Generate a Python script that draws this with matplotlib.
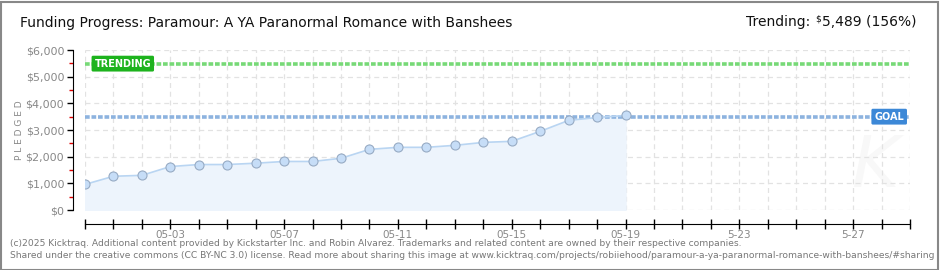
import matplotlib
matplotlib.use("Agg")
import matplotlib.pyplot as plt
import matplotlib.dates as mdates
from matplotlib.patches import Rectangle
import pandas as pd

# data
dates = ["2025-04-30", "2025-05-01", "2025-05-02", "2025-05-03", "2025-05-04",
         "2025-05-05", "2025-05-06", "2025-05-07", "2025-05-08", "2025-05-09",
         "2025-05-10", "2025-05-11", "2025-05-12", "2025-05-13", "2025-05-14",
         "2025-05-15", "2025-05-16", "2025-05-17", "2025-05-18", "2025-05-19"]
pledged = [960, 1265, 1300, 1630, 1705, 1705, 1755, 1820, 1820, 1940,
           2275, 2350, 2350, 2425, 2535, 2575, 2950, 3360, 3470, 3545]
goal = 3500
trending = 5489
x_start, x_end = "2025-04-30", "2025-05-29"
tick_labels = {"2025-05-03": "05-03", "2025-05-07": "05-07", "2025-05-11": "05-11",
               "2025-05-15": "05-15", "2025-05-19": "05-19", "2025-05-23": "5-23",
               "2025-05-27": "5-27"}

plt.rcParams['font.family'] = ['DejaVu Sans']

W, H = 940, 270
fig = plt.figure(figsize=(W / 100, H / 100), dpi=100)
ax = fig.add_axes([85 / W, (H - 210) / H, (910 - 85) / W, 160 / H])

x = pd.to_datetime(dates)
x0, x1 = pd.Timestamp(x_start), pd.Timestamp(x_end)

ax.fill_between(x, pledged, 0, color="#edf4fc", zorder=1)
ax.plot(x, pledged, color="#b9d5f2", lw=1.2, zorder=3)
ax.plot(x, pledged, "o", ms=6.5, mfc="#c6ddf7", mec="#97abc4", mew=0.8, zorder=4)

ax.plot([x0, x1], [goal, goal], color="#8db3df", lw=2.6, ls=(0, (1.3, 0.5)), zorder=2)
ax.plot([x0, x1], [trending, trending], color="#77d977", lw=2.6, ls=(0, (1.3, 0.5)), zorder=2)

ax.set_xlim(x0, x1)
ax.set_ylim(0, 6000)

for s in ["top", "right"]:
    ax.spines[s].set_visible(False)
ax.spines["left"].set_position(("outward", 9))
ax.spines["bottom"].set_position(("outward", 10))
ax.spines["left"].set_bounds(0, 6000)

ax.xaxis.set_major_locator(mdates.DayLocator())
ax.xaxis.set_major_formatter(plt.FuncFormatter(
    lambda v, p: tick_labels.get(mdates.num2date(v).strftime("%Y-%m-%d"), "")))
ax.tick_params(axis="x", direction="inout", length=7, width=1, colors="black",
               labelcolor="#888888", labelsize=7.5, pad=1)

ax.set_yticks(range(0, 6001, 1000))
ax.set_yticklabels(["$0", "$1,000", "$2,000", "$3,000", "$4,000", "$5,000", "$6,000"])
ax.set_yticks(range(500, 6000, 1000), minor=True)
ax.tick_params(axis="y", which="major", direction="out", length=4, width=1,
               labelcolor="#888888", labelsize=8, pad=2)
ax.tick_params(axis="y", which="minor", direction="out", length=3, width=1, color="#e00000")

ax.grid(True, color="#e2e2e2", ls=(0, (4, 3)), lw=0.9, zorder=0)
ax.set_axisbelow(True)

# labels on the lines
ax.text(x0 + pd.Timedelta(hours=8), trending, "TRENDING",
        color="white", fontsize=7, fontweight="bold", va="center", ha="left", zorder=6,
        bbox=dict(boxstyle="round,pad=0.3,rounding_size=0.15", fc="#1db31d", ec="none"))
ax.text(x1 - pd.Timedelta(hours=5), goal, "GOAL",
        color="white", fontsize=7, fontweight="bold", va="center", ha="right", zorder=6,
        bbox=dict(boxstyle="round,pad=0.3,rounding_size=0.15", fc="#3c88d7", ec="none"))

# faint watermark
ax.text(pd.Timestamp("2025-05-27") + pd.Timedelta(hours=18), 1600, "K", color="#f8f8f8",
        fontsize=52, style="italic", ha="center", va="center", zorder=0)

fig.text(20 / W, 1 - 130 / H, "P L E D G E D", rotation=90,
         fontsize=6.5, color="#888888", va="center", ha="center")

fig.text(20 / W, 1 - 23 / H, "Funding Progress: Paramour: A YA Paranormal Romance with Banshees",
         fontsize=10, color="#111111", va="center", ha="left")

# trending text in the top right, with a small raised dollar sign
r = fig.canvas.get_renderer()
t_amt = fig.text(917 / W, 1 - 22 / H, "5,489 (156%)", fontsize=10, color="#111111",
                 va="center", ha="right")
bb = t_amt.get_window_extent(r)
t_dol = fig.text((bb.x0 - 1) / W, 1 - 19 / H, "$", fontsize=6.5, color="#111111",
                 va="center", ha="right")
bb2 = t_dol.get_window_extent(r)
fig.text((bb2.x0 - 5) / W, 1 - 22 / H, "Trending:", fontsize=10, color="#111111",
         va="center", ha="right")

fig.text(10 / W, 1 - 243 / H,
         "(c)2025 Kicktraq. Additional content provided by Kickstarter Inc. and Robin Alvarez. "
         "Trademarks and related content are owned by their respective companies.",
         fontsize=6.6, color="#777777", va="center", ha="left")
fig.text(10 / W, 1 - 255 / H,
         "Shared under the creative commons (CC BY-NC 3.0) license. Read more about sharing this "
         "image at www.kicktraq.com/projects/robiiehood/paramour-a-ya-paranormal-romance-with-banshees/#sharing",
         fontsize=6.6, color="#777777", va="center", ha="left")

fig.patches.append(Rectangle((0.5 / W, 0.5 / H), 1 - 2.5 / W, 1 - 2.5 / H,
                             transform=fig.transFigure, fill=False, ec="#888888", lw=1.5))

fig.savefig("out.png", dpi=100)
